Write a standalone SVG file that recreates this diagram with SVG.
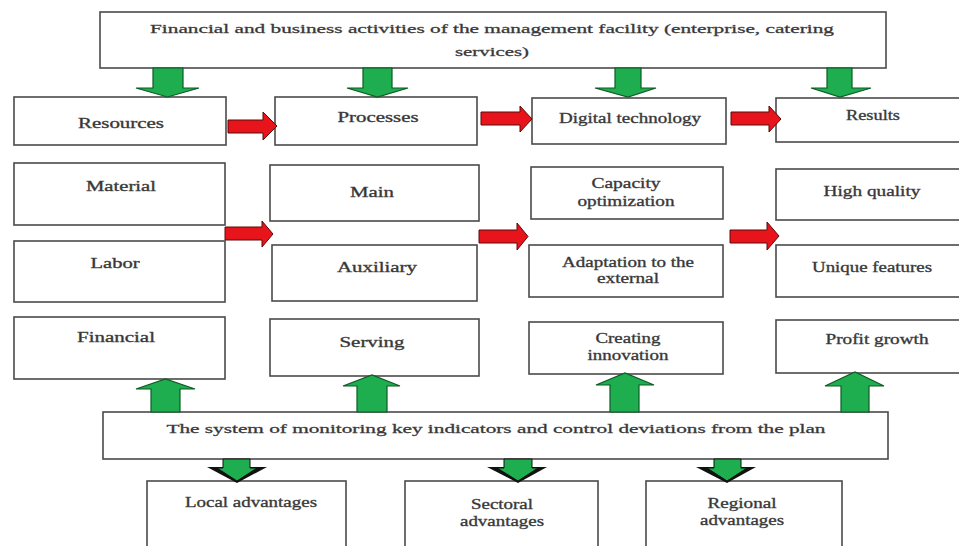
<svg xmlns="http://www.w3.org/2000/svg" width="959" height="546" viewBox="0 0 959 546">
<style>
.box{fill:#fff;stroke:#4a4a4a;stroke-width:1.6}
.t{font-family:"Liberation Serif","Times New Roman",serif;font-size:14.5px;fill:#333;stroke:#444;stroke-width:0.35;text-anchor:middle}
.tb{font-family:"Liberation Serif","Times New Roman",serif;font-size:13.5px;fill:#333;stroke:#444;stroke-width:0.3;text-anchor:middle}
.g{fill:#1fae4f;stroke:#0d5a25;stroke-width:1.2;stroke-linejoin:miter}
.r{fill:#e8141c;stroke:#5a0a0a;stroke-width:1;stroke-linejoin:miter}
.gd{fill:#1fae4f;stroke:#111;stroke-width:1}
</style>
<rect width="959" height="546" fill="#fff"/>

<g id="top">
<rect class="box" x="100" y="12" width="786" height="56"/>
<text class="tb" x="492" y="33" textLength="684" lengthAdjust="spacingAndGlyphs">Financial and business activities of the management facility (enterprise, catering</text>
<text class="tb" x="492" y="56" textLength="74" lengthAdjust="spacingAndGlyphs">services)</text>
</g>

<g id="resources"><rect class="box" x="14" y="97" width="212" height="48"/><text class="t" x="121" y="128" textLength="86" lengthAdjust="spacingAndGlyphs">Resources</text></g>
<g id="processes"><rect class="box" x="275" y="97" width="202" height="48"/><text class="t" x="378" y="122" textLength="81" lengthAdjust="spacingAndGlyphs">Processes</text></g>
<g id="digital"><rect class="box" x="532" y="98" width="194" height="46"/><text class="t" x="630" y="123" textLength="142" lengthAdjust="spacingAndGlyphs">Digital technology</text></g>
<g id="results"><rect class="box" x="776" y="98" width="190" height="44"/><text class="t" x="873" y="120" textLength="54" lengthAdjust="spacingAndGlyphs">Results</text></g>

<g id="material"><rect class="box" x="14" y="163" width="211" height="62"/><text class="t" x="121" y="191" textLength="70" lengthAdjust="spacingAndGlyphs">Material</text></g>
<g id="labor"><rect class="box" x="14" y="241" width="211" height="61"/><text class="t" x="115" y="268" textLength="49" lengthAdjust="spacingAndGlyphs">Labor</text></g>
<g id="financial"><rect class="box" x="14" y="317" width="211" height="62"/><text class="t" x="116" y="342" textLength="78" lengthAdjust="spacingAndGlyphs">Financial</text></g>

<g id="main"><rect class="box" x="270" y="165" width="209" height="56"/><text class="t" x="372" y="197" textLength="44" lengthAdjust="spacingAndGlyphs">Main</text></g>
<g id="auxiliary"><rect class="box" x="272" y="245" width="205" height="56"/><text class="t" x="377" y="272" textLength="80" lengthAdjust="spacingAndGlyphs">Auxiliary</text></g>
<g id="serving"><rect class="box" x="270" y="319" width="209" height="57"/><text class="t" x="372" y="347" textLength="65" lengthAdjust="spacingAndGlyphs">Serving</text></g>

<g id="capacity"><rect class="box" x="531" y="167" width="192" height="52"/><text class="t" x="626" y="188" textLength="69" lengthAdjust="spacingAndGlyphs">Capacity</text><text class="t" x="626" y="206" textLength="97" lengthAdjust="spacingAndGlyphs">optimization</text></g>
<g id="adaptation"><rect class="box" x="529" y="245" width="194" height="52"/><text class="t" x="628" y="267" textLength="132" lengthAdjust="spacingAndGlyphs">Adaptation to the</text><text class="t" x="628" y="283" textLength="62" lengthAdjust="spacingAndGlyphs">external</text></g>
<g id="creating"><rect class="box" x="529" y="322" width="194" height="52"/><text class="t" x="628" y="343" textLength="65" lengthAdjust="spacingAndGlyphs">Creating</text><text class="t" x="628" y="360" textLength="81" lengthAdjust="spacingAndGlyphs">innovation</text></g>

<g id="quality"><rect class="box" x="776" y="169" width="190" height="51"/><text class="t" x="872" y="196" textLength="97" lengthAdjust="spacingAndGlyphs">High quality</text></g>
<g id="unique"><rect class="box" x="776" y="245" width="190" height="52"/><text class="t" x="872" y="272" textLength="120" lengthAdjust="spacingAndGlyphs">Unique features</text></g>
<g id="profit"><rect class="box" x="776" y="320" width="190" height="53"/><text class="t" x="877" y="344" textLength="103" lengthAdjust="spacingAndGlyphs">Profit growth</text></g>

<g id="monitoring">
<rect class="box" x="103" y="412" width="785" height="47"/>
<text class="tb" x="496" y="433" textLength="659" lengthAdjust="spacingAndGlyphs">The system of monitoring key indicators and control deviations from the plan</text>
</g>

<g id="local"><rect class="box" x="147" y="481" width="199" height="70"/><text class="t" x="251" y="507" textLength="132" lengthAdjust="spacingAndGlyphs">Local advantages</text></g>
<g id="sectoral"><rect class="box" x="405" y="481" width="193" height="70"/><text class="t" x="502" y="509" textLength="62" lengthAdjust="spacingAndGlyphs">Sectoral</text><text class="t" x="502" y="526" textLength="84" lengthAdjust="spacingAndGlyphs">advantages</text></g>
<g id="regional"><rect class="box" x="646" y="481" width="196" height="70"/><text class="t" x="742" y="508" textLength="69" lengthAdjust="spacingAndGlyphs">Regional</text><text class="t" x="742" y="525" textLength="84" lengthAdjust="spacingAndGlyphs">advantages</text></g>

<g id="connectors">
<path class="g" d="M153,68 H183 V88 H199 L167.5,97 L136,88 H153 Z"/>
<path class="g" d="M363,68 H392 V88 H408 L377.5,97 L347,88 H363 Z"/>
<path class="g" d="M615,68 H641 V88 H656 L628,97 L595,88 H615 Z"/>
<path class="g" d="M827,68 H852 V88 H871 L840,97 L811,88 H827 Z"/>
<path class="r" d="M228,120 H263 V112 L277,126 L263,140 V133 H228 Z"/>
<path class="r" d="M481,112 H520 V106 L532,119 L520,132 V125 H481 Z"/>
<path class="r" d="M731,112 H769 V106 L781,119 L769,132 V125 H731 Z"/>
<path class="r" d="M225,227 H262 V221 L273,234 L262,247 V240 H225 Z"/>
<path class="r" d="M479,230 H517 V223 L528,236.5 L517,250 V243 H479 Z"/>
<path class="r" d="M730,230 H767 V222 L779,236 L767,250 V243 H730 Z"/>
<path class="g" d="M151,412 V389 H136 L165.5,379 L195,389 H180 V412 Z"/>
<path class="g" d="M357,412 V386 H343 L372,375 L400,386 H387 V412 Z"/>
<path class="g" d="M610,412 V385 H596 L625,373 L654,385 H639 V412 Z"/>
<path class="g" d="M841,412 V386 H825 L855,372 L884,386 H869 V412 Z"/>
<path fill="#111" d="M207,467 H267 L237,483 Z"/>
<path class="gd" d="M223,459 H250 V468 H257 L237,481 L217,468 H223 Z"/>
<path fill="#111" d="M487,467 H547 L518,483 Z"/>
<path class="gd" d="M504,459 H532 V468 H538 L518,481 L497,468 H504 Z"/>
<path fill="#111" d="M696,467 H756 L727,483 Z"/>
<path class="gd" d="M714,459 H741 V468 H747 L727,481 L707,468 H714 Z"/>
</g>
</svg>
